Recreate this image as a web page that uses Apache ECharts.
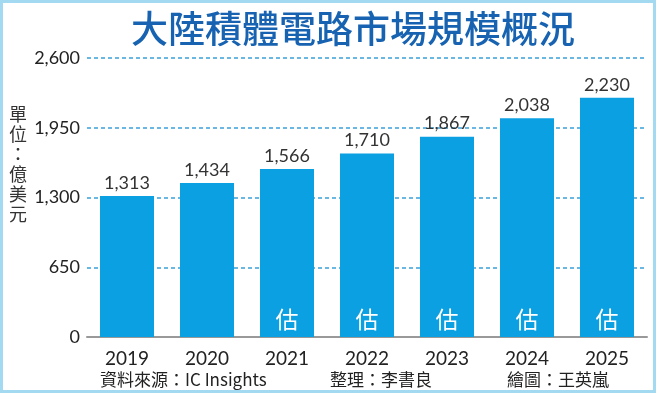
<!DOCTYPE html>
<html>
<head>
<meta charset="utf-8">
<script src="https://cdn.jsdelivr.net/npm/echarts@6/dist/echarts.min.js"></script>
<style>
html,body{margin:0;padding:0;background:#fff;}
#wrap{position:relative;width:656px;height:393px;}
#chart{width:656px;height:393px;}
#frame{position:absolute;left:0;top:0;width:656px;height:393px;box-sizing:border-box;border:3px solid #a3d9f1;pointer-events:none;}
</style>
</head>
<body>
<div id="wrap"><div id="chart"></div><div id="frame"></div></div>
<script>
const categories = ['2019','2020','2021','2022','2023','2024','2025'];
const values = [1313, 1434, 1566, 1710, 1867, 2038, 2230];
const estimated = [false, false, true, true, true, true, true];
const yTicks = [0, 650, 1300, 1950, 2600];
const titleText = '大陸積體電路市場規模概況';
const unitText = '單位：億美元';
const sourceText = '資料來源：IC Insights';
const editorText = '整理：李書良';
const artistText = '繪圖：王英嵐';

const FONT = '"Noto Sans CJK TC", "Noto Sans", sans-serif';
const NUMFONT = 'Lato, "Noto Sans", sans-serif';
const chart = echarts.init(document.getElementById('chart'));
const fmt = v => String(v).replace(/\B(?=(\d{3})+(?!\d))/g, ',');

chart.setOption({
  animation: false,
  title: {
    text: titleText,
    left: 126,
    top: 5,
    textStyle: { fontFamily: FONT, fontSize: 37, fontWeight: 500, color: '#1763b1' }
  },
  grid: { left: 87, right: 9, top: 58, bottom: 56 },
  xAxis: {
    type: 'category',
    data: categories,
    axisLine: { lineStyle: { color: '#999', width: 2 } },
    axisTick: { alignWithLabel: true, length: 6, lineStyle: { color: '#999', width: 1.5 } },
    axisLabel: { margin: 12, fontFamily: NUMFONT, fontSize: 19, color: '#222' }
  },
  yAxis: {
    type: 'value',
    min: yTicks[0],
    max: yTicks[yTicks.length - 1],
    interval: yTicks[1] - yTicks[0],
    axisLine: { show: false },
    axisTick: { show: false },
    axisLabel: { margin: 7, fontFamily: NUMFONT, fontSize: 18, color: '#222', formatter: fmt },
    splitLine: { lineStyle: { color: '#3aa0d8', type: [4, 3], width: 1.5 } }
  },
  series: [
    {
      type: 'bar',
      data: values,
      barWidth: 54,
      itemStyle: { color: '#0aa0e2' },
      label: {
        show: true, position: 'top', distance: 4,
        fontFamily: NUMFONT, fontSize: 18, color: '#333',
        formatter: p => fmt(p.value)
      },
      z: 2
    },
    {
      type: 'bar',
      data: values,
      barWidth: 54,
      barGap: '-100%',
      itemStyle: { color: 'rgba(0,0,0,0)' },
      label: {
        show: true, position: 'insideBottom', distance: 6,
        fontFamily: FONT, fontSize: 23, color: '#fff',
        formatter: p => estimated[p.dataIndex] ? '估' : ''
      },
      z: 3
    }
  ],
  graphic: [
    {
      type: 'text', left: 9, top: 104,
      style: { text: unitText.split('').join('\n'), font: '18px ' + FONT, fill: '#333', lineHeight: 20, align: 'left' }
    },
    {
      type: 'text', left: 100, top: 371,
      style: { text: sourceText, font: '17px ' + FONT, fill: '#222' }
    },
    {
      type: 'text', left: 330, top: 371,
      style: { text: editorText, font: '17px ' + FONT, fill: '#222' }
    },
    {
      type: 'text', left: 507, top: 371,
      style: { text: artistText, font: '17px ' + FONT, fill: '#222' }
    }
  ]
});
</script>
</body>
</html>
